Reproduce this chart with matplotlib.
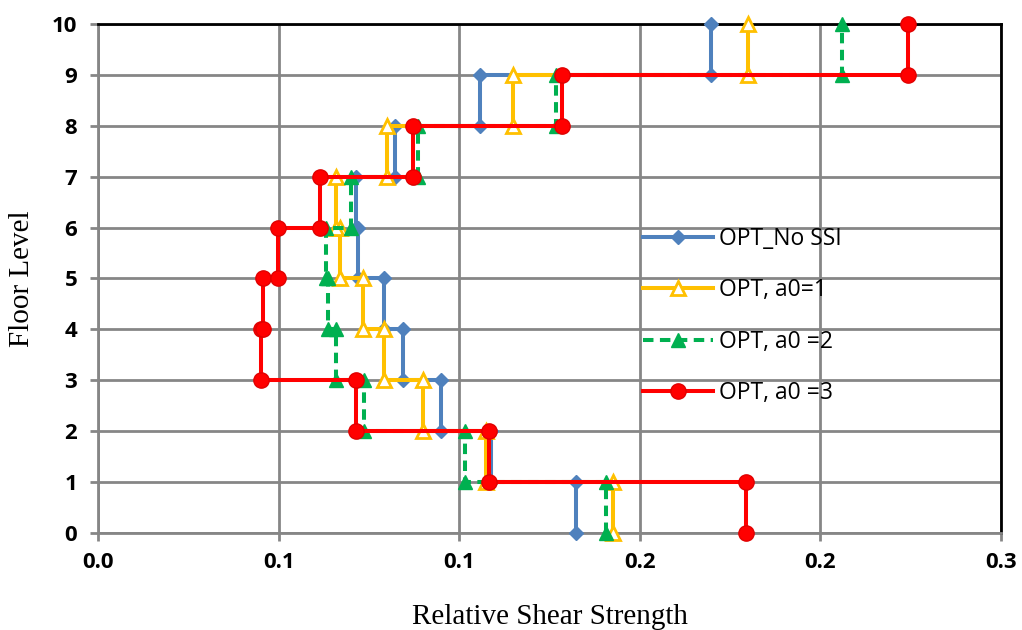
import numpy as np
import matplotlib
matplotlib.use("Agg")
import matplotlib.pyplot as plt
from matplotlib.ticker import FormatStrFormatter

# relative shear strength of each storey (storey 1 .. 10)
storeys = np.arange(1, 11)
no_ssi = [0.1589, 0.1305, 0.1140, 0.1014, 0.0951, 0.0864, 0.0858, 0.0987, 0.1270, 0.2038]
a0_1 = [0.1712, 0.1290, 0.1080, 0.0951, 0.0881, 0.0805, 0.0790, 0.0960, 0.1377, 0.2160]
a0_2 = [0.1689, 0.1220, 0.0884, 0.0789, 0.0763, 0.0758, 0.0841, 0.1064, 0.1520, 0.2473]
a0_3 = [0.2154, 0.1300, 0.0858, 0.0542, 0.0549, 0.0598, 0.0739, 0.1048, 0.1543, 0.2690]

x_ticks = np.arange(0, 0.3001, 0.06)
y_ticks = np.arange(0, 11, 1)


def step_profile(vals):
    # each storey value spans from floor i-1 to floor i
    xs = np.repeat(vals, 2)
    ys = np.column_stack([storeys - 1, storeys]).ravel()
    return xs, ys


fig = plt.figure(figsize=(10.22, 6.3), dpi=100)
ax = fig.add_axes([0.0959, 0.154, 0.8836, 0.808])

series = [
    (no_ssi, "OPT_No SSI", dict(color="#4F81BD", marker="D", markersize=7,
                               markerfacecolor="#4F81BD", markeredgecolor="#4F81BD", linestyle="-")),
    (a0_1, "OPT, a0=1", dict(color="#FFC000", marker="^", markersize=10,
                            markerfacecolor="white", markeredgecolor="#FFC000",
                            markeredgewidth=2, linestyle="-")),
    (a0_2, "OPT, a0 =2", dict(color="#00B050", marker="^", markersize=10,
                             markerfacecolor="#00B050", markeredgecolor="#00B050",
                             linestyle=(0, (2.6, 1.6)))),
    (a0_3, "OPT, a0 =3", dict(color="#FF0000", marker="o", markersize=11,
                             markerfacecolor="#FF0000", markeredgecolor="#E00000",
                             linestyle="-")),
]

for i, (vals, name, style) in enumerate(series):
    xs, ys = step_profile(vals)
    ax.plot(xs, ys, linewidth=2.9, label=name, zorder=3 + i, clip_on=False, **style)

ax.set_xlim(0, 0.3)
ax.set_ylim(0, 10)
ax.set_xticks(x_ticks)
ax.set_yticks(y_ticks)
ax.xaxis.set_major_formatter(FormatStrFormatter("%.1f"))

ax.grid(True, color="#868686", linewidth=2)
ax.set_axisbelow(True)
for side in ["left", "bottom"]:
    ax.spines[side].set_color("#868686")
    ax.spines[side].set_linewidth(2)
for side in ["top", "right"]:
    ax.spines[side].set_color("black")
    ax.spines[side].set_linewidth(2)
ax.tick_params(axis="both", direction="out", length=6, width=2, color="#868686")

for lab in ax.get_xticklabels() + ax.get_yticklabels():
    lab.set_fontfamily("Open Sans")
    lab.set_fontweight("bold")
    lab.set_fontsize(16)
ax.tick_params(axis="x", pad=8)
ax.tick_params(axis="y", pad=9)

ax.set_xlabel("Relative Shear Strength", fontfamily="Liberation Serif", fontsize=21, labelpad=22)
ax.set_ylabel("Floor Level", fontfamily="Liberation Serif", fontsize=21, labelpad=12)

leg = ax.legend(loc="upper left", bbox_to_anchor=(0.6035, 0.602), frameon=False,
                borderpad=0, borderaxespad=0, handlelength=3.05, handletextpad=0.25,
                labelspacing=1.2, numpoints=1, prop={"family": "Open Sans", "size": 16.5})

fig.savefig("out.png", dpi=100)
